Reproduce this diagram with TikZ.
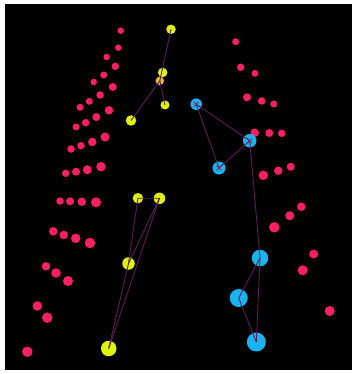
\documentclass[tikz,border=0pt]{standalone}
\usetikzlibrary{shapes.misc}
\definecolor{pinkc}{HTML}{FF1F63}
\definecolor{yelc}{HTML}{DCF20F}
\definecolor{orac}{HTML}{E6B82E}
\definecolor{cyac}{HTML}{18B4F0}
\definecolor{linec}{HTML}{5C1E58}
\tikzset{
  pk/.style={circle, fill=pinkc, inner sep=0pt, minimum size=#1},
  yl/.style={circle, fill=yelc, inner sep=0pt, minimum size=#1},
  og/.style={circle, fill=orac, inner sep=0pt, minimum size=#1},
  cy/.style={circle, fill=cyac, inner sep=0pt, minimum size=#1},
  link/.style={draw=linec, line width=0.9pt},
  xmark/.style={draw=linec!70!pinkc, line width=0.9pt, line cap=round}
}
\begin{document}
\begin{tikzpicture}[x=1pt, y=-1pt]
\useasboundingbox (0,0) rectangle (356,374);
\fill[white] (0,0) rectangle (356,374);
\fill[black] (5,4) rectangle (352,370);
% left pink cluster
\foreach \n/\x/\y/\d in {p1/120.7/30.7/6.5, p2/118.3/47.7/6.5, p3/106.7/57/6.5, p4/115.3/66.3/7.5,
  p5/103.7/75/7, p6/93.7/82/6.5, p7/112.7/87/8, p8/100/95/7.5, p9/89.3/101.3/7,
  p10/80/107.3/7, p11/109/110.3/8.5, p12/96.3/117/8, p13/85.7/122.7/7.5, p14/76/127/7,
  p15/105/137/9, p16/92.3/142/8.5, p17/81/145.7/7.5, p18/71/149/7.5, p19/101/166.7/9.5,
  p20/87.3/169.7/9, p21/76/171.7/8, p22/65.7/173.3/7.5, p23/60/201/7.5, p24/70/201.3/8,
  p25/81.7/201.7/8.5, p26/96/202.3/10, p27/53.3/231.3/8.5, p28/63.7/235/8.5, p29/75.7/238.3/9.5,
  p30/90/243/10.5, p31/46/266.3/8.5, p32/56/273/9.5, p33/68/281/10, p34/37.3/306/9.5,
  p35/47.3/317.7/10.5, p36/27.3/351.7/10.5}
  \node[pk=\d pt] (\n) at (\x,\y) {};
% right pink cluster
\foreach \n/\x/\y/\d in {q1/235.7/41.7/7, q2/240.7/67.3/7.5, q3/255/73.3/7, q4/247/97.3/8,
  q5/261.7/101/7.5, q6/273.7/104/7, q7/254.7/132.7/8.5, q8/269.3/133/8, q9/281.7/133.3/7.5,
  q10/263.3/175.3/9.5, q11/278.3/170.7/8.5, q12/290.7/166.7/8, q13/301.3/206.7/8.5,
  q14/289.7/215.7/9, q15/274.3/227.3/10.5, q16/313.7/254/9, q17/302.7/270.3/10,
  q18/329.7/311/10}
  \node[pk=\d pt] (\n) at (\x,\y) {};
% yellow figure
\node[yl=9.5pt] (y1) at (171,29.3) {};
\node[yl=9.5pt] (y2) at (162.7,72.5) {};
\node[og=8.5pt] (y3) at (159.8,80.8) {};
\node[yl=9pt] (y4) at (165,105) {};
\node[yl=10.5pt] (y5) at (131,120.5) {};
\node[yl=10.5pt] (y6) at (137.9,198.2) {};
\node[yl=11.5pt] (y7) at (159.5,198.3) {};
\node[yl=12.5pt] (y8) at (128.5,263.5) {};
\node[yl=15.5pt] (y9) at (108.7,348.5) {};
% cyan figure
\node[cy=11.5pt] (c1) at (196.2,104.2) {};
\node[cy=13.5pt] (c2) at (249.7,140.7) {};
\node[cy=13pt] (c3) at (219,168) {};
\node[cy=16.5pt] (c4) at (260,258) {};
\node[cy=18pt] (c5) at (238.7,298) {};
\node[cy=19pt] (c6) at (256.3,342) {};
% links
\draw[link] (y1.center) -- (y3.center);
\draw[link] (y3.center) -- (y5.center);
\draw[link] (y3.center) -- (y4.center);
\draw[link] (y6.center) -- (y7.center);
\draw[link] (y6.center) -- (y8.center);
\draw[link] (y7.center) -- (y8.center);
\draw[link] (y7.center) -- (y9.center);
\draw[link] (y8.center) -- (y9.center);
\draw[link] (c1.center) -- (c2.center);
\draw[link] (c1.center) -- (c3.center);
\draw[link] (c3.center) -- (c2.center);
\draw[link] (c2.center) -- (c4.center);
\draw[link] (c4.center) -- (c5.center);
\draw[link] (c4.center) -- (c6.center);
\draw[link] (c5.center) -- (c6.center);
% cross marks
\foreach \c in {c1,c2,c3} {
  \draw[xmark] ([shift={(-2.2,-2.2)}]\c.center) -- ([shift={(2.2,2.2)}]\c.center);
  \draw[xmark] ([shift={(-2.2,2.2)}]\c.center) -- ([shift={(2.2,-2.2)}]\c.center);
}
\end{tikzpicture}
\end{document}
